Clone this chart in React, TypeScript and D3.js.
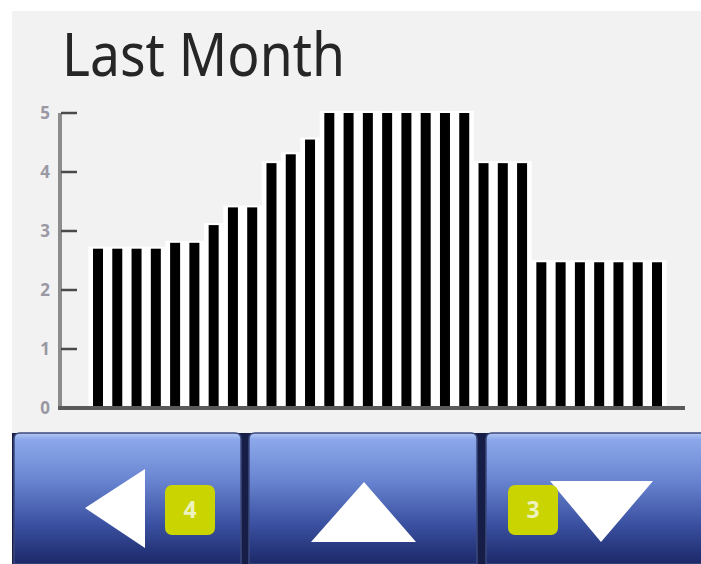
import React from 'react';
import * as d3 from 'd3';

// Daily values for the last month (30 days)
const DAYS = [
  1, 2, 3, 4, 5, 6, 7, 8, 9, 10, 11, 12, 13, 14, 15,
  16, 17, 18, 19, 20, 21, 22, 23, 24, 25, 26, 27, 28, 29, 30,
];
const VALUES = [
  2.7, 2.7, 2.7, 2.7, 2.8, 2.8, 3.1, 3.4, 3.4, 4.15, 4.3, 4.55, 5, 5, 5,
  5, 5, 5, 5, 5, 4.15, 4.15, 4.15, 2.47, 2.47, 2.47, 2.47, 2.47, 2.47, 2.47,
];
const Y_TICKS = [0, 1, 2, 3, 4, 5];
const TITLE = 'Last Month';
const BADGES = ['4', '3'];

const W = 701;
const H = 564;
const FONT = '"Noto Sans", "Open Sans", sans-serif';

const App: React.FC = () => {
  const x = d3.scalePoint<number>().domain(DAYS).range([98, 657]);
  const y = d3.scaleLinear().domain([0, 5]).range([408, 113]);
  const step = x.step();
  const barW = 10;

  // button outline with rounded top corners
  const button = (x0: number, x1: number, top: number, bottom: number) => {
    const r = 6;
    return `M${x0},${bottom} L${x0},${top + r} Q${x0},${top} ${x0 + r},${top} L${x1 - r},${top} Q${x1},${top} ${x1},${top + r} L${x1},${bottom} Z`;
  };

  return (
    <div style={{ position: 'absolute', left: 0, top: 0 }}>
      <svg width={W} height={H} style={{ display: 'block' }}>
        <defs>
          <linearGradient id="btn" x1="0" y1="0" x2="0" y2="1">
            <stop offset="0" stopColor="#b4c8f4" />
            <stop offset="0.05" stopColor="#8ca8ea" />
            <stop offset="0.35" stopColor="#6a86d2" />
            <stop offset="0.7" stopColor="#3a50a0" />
            <stop offset="1" stopColor="#1c2868" />
          </linearGradient>
        </defs>
        <rect x={0} y={0} width={W} height={H} fill="#ffffff" />
        {/* panel */}
        <rect x={12} y={11} width={W - 12} height={422} fill="#f2f2f2" />

        {/* title */}
        <text
          x={62}
          y={76}
          fontFamily={FONT}
          fontSize={60}
          fill="#262626"
          textLength={283}
          lengthAdjust="spacingAndGlyphs"
        >
          {TITLE}
        </text>

        {/* bars: white halo + black core */}
        {DAYS.map((d, i) => (
          <rect
            key={`h${d}`}
            x={(x(d) ?? 0) - step / 2}
            y={y(VALUES[i]) - 2}
            width={step}
            height={y(0) - y(VALUES[i]) + 2}
            fill="#ffffff"
          />
        ))}
        {DAYS.map((d, i) => (
          <rect
            key={`b${d}`}
            x={(x(d) ?? 0) - barW / 2}
            y={y(VALUES[i])}
            width={barW}
            height={y(0) - y(VALUES[i])}
            fill="#000000"
          />
        ))}

        {/* y axis */}
        <line x1={60} x2={60} y1={y(5)} y2={y(0)} stroke="#8c8c8c" strokeWidth={4} />
        {Y_TICKS.map((t) => (
          <g key={t}>
            <line x1={61} x2={77} y1={y(t)} y2={y(t)} stroke="#4a4a4a" strokeWidth={2.5} />
            <text
              x={50}
              y={y(t) + 6}
              textAnchor="end"
              fontFamily={FONT}
              fontSize={17}
              fontWeight="bold"
              fill="#9a98a4"
            >
              {t}
            </text>
          </g>
        ))}
        {/* x axis */}
        <line x1={58} x2={685} y1={y(0)} y2={y(0)} stroke="#5a5a5a" strokeWidth={4} />

        {/* button bar */}
        <rect x={12} y={433} width={W - 12} height={H - 433} fill="#161e48" />
        <path d={button(14, 241, 433, H)} fill="url(#btn)" stroke="#3c4a7c" strokeWidth={1.5} />
        <path d={button(249, 477, 433, H)} fill="url(#btn)" stroke="#3c4a7c" strokeWidth={1.5} />
        <path d={button(486, W + 8, 433, H)} fill="url(#btn)" stroke="#3c4a7c" strokeWidth={1.5} />

        {/* left arrow */}
        <path d="M85,508 L145,469 L145,548 Z" fill="#ffffff" />
        {/* up arrow */}
        <path d="M364,482 L416,542 L311,542 Z" fill="#ffffff" />
        {/* down arrow */}
        <path d="M550,481 L653,481 L601,542 Z" fill="#ffffff" />

        {/* badges */}
        {[
          { x0: 165, label: BADGES[0] },
          { x0: 508, label: BADGES[1] },
        ].map((b) => (
          <g key={b.label}>
            <rect x={b.x0} y={485} width={50} height={50} rx={7} fill="#c9d400" />
            <text
              x={b.x0 + 25}
              y={518}
              textAnchor="middle"
              fontFamily={FONT}
              fontSize={23}
              fontWeight="bold"
              fill="#eef2c0"
            >
              {b.label}
            </text>
          </g>
        ))}
      </svg>
    </div>
  );
};

export default App;
